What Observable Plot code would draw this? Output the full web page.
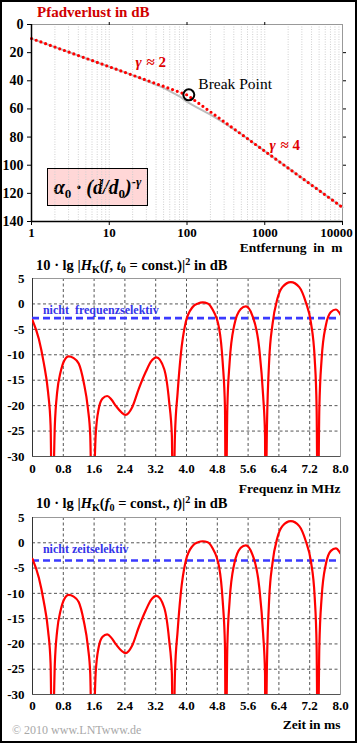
<!DOCTYPE html>
<html><head><meta charset="utf-8">
<script src="https://cdn.jsdelivr.net/npm/d3@7"></script>
<script src="https://cdn.jsdelivr.net/npm/@observablehq/plot@0.6"></script>
<style>
body{margin:0;background:#fff;}
#page{position:relative;width:357px;height:743px;overflow:hidden;background:#fff;font-family:"Liberation Serif",serif;}
.abs{position:absolute;white-space:pre;line-height:1;}
.t{font-weight:bold;font-size:15px;color:#000;}
.abs sub,.abs sup{font-size:0.7em;line-height:0;}
.abs sub{vertical-align:-0.25em;}
.abs sup{vertical-align:0.5em;}
#border{position:absolute;left:0;top:0;width:357px;height:743px;box-sizing:border-box;border:2px solid #000;pointer-events:none;}
#formula{position:absolute;left:47px;top:168px;width:101px;height:38px;box-sizing:border-box;border:1px solid #000;background:#ffd7d7;font:bold italic 20px "Liberation Serif",serif;text-align:center;line-height:36px;white-space:pre;}
#formula sub{font-size:0.65em;font-style:normal;vertical-align:-0.3em;line-height:0;}
#formula sup{font-size:0.65em;vertical-align:0.6em;line-height:0;}
</style>
</head><body><div id="page">
<div class="abs t" style="left:37px;top:5px;color:#d00000;">Pfadverlust in dB</div>
<div class="abs t" style="left:36px;top:258px;font-size:14.5px;">10 · lg |<i>H</i><sub>K</sub>(<i>f</i>, <i>t</i><sub>0</sub> = const.)|<sup>2</sup> in dB</div>
<div class="abs t" style="left:36px;top:496px;font-size:14.5px;">10 · lg |<i>H</i><sub>K</sub>(<i>f</i><sub>0</sub> = const., <i>t</i>)|<sup>2</sup> in dB</div>
<div id="formula">α<sub>0</sub> · (<span>d</span>/<span>d</span><sub>0</sub>)<sup>-γ</sup></div>
<div class="abs" style="left:12px;top:724px;font-size:12px;color:#a8a8a8;">© 2010 www.LNTwww.de</div>
<div id="border"></div>
</div>
<script>
// ---------- Panel 1: path loss ----------
const distances = [1, 100, 10000];
const asymptoteLoss = [10, 50, 130];
const grayDistances = [1, 5, 10, 20, 30, 50, 80, 100, 130, 200, 300, 500, 1000, 3000, 10000];
const grayLoss = [10, 24, 30, 36, 40, 45, 51, 55, 58.5, 64, 70, 78, 90, 109, 130];
const distTicks = [1, 10, 100, 1000, 10000];
const distTickLabels = ["1", "10", "100", "1000", ""];
const lastDistTick = [10000];
const lossTicks = [0, 20, 40, 60, 80, 100, 120, 140];
const breakPoint = [{d: 105.5, v: 50}];
const gammaLabels = ["2", "4"];
const gammaDist = [21.8, 1152];
const gammaLoss = [30.2, 89.5];

// ---------- Panels 2/3: channel transfer function ----------
const freqMHz = [0,0.165,0.29,0.405,0.47,0.51,0.58,0.64,0.73,0.82,0.94,1.06,1.2,1.33,1.44,1.5,1.55,1.64,1.72,1.82,1.94,2.05,2.16,2.42,2.59,2.76,2.94,3.08,3.22,3.42,3.55,3.62,3.65,3.70,3.77,3.85,3.98,4.16,4.3,4.42,4.55,4.67,4.85,4.94,5.0,5.02,5.06,5.12,5.24,5.41,5.54,5.71,5.89,5.99,6.04,6.05,6.09,6.15,6.23,6.36,6.49,6.71,6.93,7.10,7.23,7.33,7.38,7.41,7.45,7.51,7.62,7.75,7.88,8.0];
const gainFreqDB = [-3.2,-6.9,-11.5,-17.4,-23.9,-45,-23.9,-17.4,-13.4,-11.2,-10.3,-10.6,-11.7,-15.4,-20.6,-25.9,-45,-25.9,-20.6,-18.6,-18.1,-18.8,-20,-21.8,-20.3,-16.7,-13.4,-11.3,-10.5,-12.8,-19.3,-25.9,-45,-25.9,-17.4,-10.1,-3.6,-0.6,0.1,0.3,0.1,-1,-4.9,-11.5,-20.6,-45,-20.6,-11.5,-4.2,-1.0,-0.5,-2.3,-8.8,-18,-25.9,-45,-23.9,-10.8,-4.2,1.0,3.3,4.3,3.3,0.3,-3.6,-10.8,-20.6,-45,-20.6,-10.8,-4.2,-1.6,-1.1,-2.1];
const timeMs = freqMHz.slice();
const gainTimeDB = gainFreqDB.slice();
const axisTicks = [0, 0.8, 1.6, 2.4, 3.2, 4.0, 4.8, 5.6, 6.4, 7.2, 8.0];
const axisTickLabels = ["0", "0.8", "1.6", "2.4", "3.2", "4.0", "4.8", "5.6", "6.4", "7.2", "8.0"];
const dbTicks = [5, 0, -5, -10, -15, -20, -25, -30];
const dbTickLabels = ["5", "0", "-5", "-10", "-15", "-20", "-25", "-30"];

const page = document.getElementById("page");
const borderEl = document.getElementById("border");
const baseStyle = {fontFamily: "'Liberation Serif', serif", fontSize: "13px", fontWeight: "bold", background: "transparent", color: "#000", overflow: "visible"};

function place(svg, top) {
  svg.style.position = "absolute";
  svg.style.left = "0px";
  svg.style.top = top + "px";
  page.insertBefore(svg, borderEl);
}

// minor log grid positions
const logGrid = [];
for (const dec of [1, 10, 100, 1000]) for (let k = 2; k <= 9; k++) logGrid.push(k * dec);
logGrid.push(10, 100, 1000);

const asym = distances.map((d, i) => ({d, v: asymptoteLoss[i]}));
const gray = grayDistances.map((d, i) => ({d, v: grayLoss[i]}));
const gam = gammaLabels.map((t, i) => ({t, d: gammaDist[i], v: gammaLoss[i]}));

const p1 = Plot.plot({
  width: 357, height: 253,
  marginLeft: 31, marginRight: 15, marginTop: 24, marginBottom: 32,
  style: baseStyle,
  x: {type: "log", domain: [1, 10000]},
  y: {domain: [0, 140], reverse: true},
  marks: [
    Plot.ruleX(logGrid, {stroke: "#cfcfcf", strokeDasharray: "1,1.5"}),
    Plot.frame({stroke: "#999"}),
    Plot.line(gray, {x: "d", y: "v", stroke: "#bdbdbd", strokeWidth: 2}),
    Plot.line(asym, {x: "d", y: "v", stroke: "#ff0000", strokeWidth: 3.2, strokeDasharray: "0,5", strokeLinecap: "round"}),
    Plot.dot(breakPoint, {x: "d", y: "v", r: 5.5, stroke: "#000", strokeWidth: 2, fill: "none"}),
    Plot.text(gam, {x: "d", y: "v", text: () => "γ", fill: "#e00000", fontSize: 15, fontStyle: "italic", textAnchor: "start", lineAnchor: "bottom"}),
    Plot.text(gam, {x: "d", y: "v", text: d => "≈ " + d.t, fill: "#e00000", fontSize: 15, textAnchor: "start", lineAnchor: "bottom", dx: 11}),
    Plot.text(["Break Point"], {x: 140, y: 45.7, text: d => d, fontSize: 15.5, fontWeight: "normal", textAnchor: "start", lineAnchor: "bottom"}),
    Plot.ruleX([1], {stroke: "#000", strokeWidth: 1.5}),
    Plot.ruleY([140], {stroke: "#000", strokeWidth: 1.5}),
    Plot.axisX({ticks: distTicks, tickFormat: d => distTickLabels[distTicks.indexOf(d)], tickSize: 4, tickPadding: 2, label: null}),
    Plot.text(lastDistTick, {x: d => d, frameAnchor: "bottom", text: d => String(d), dy: 6, dx: -6, lineAnchor: "top"}),
    Plot.axisX({anchor: "top", ticks: [10, 100, 1000], tickFormat: () => "", tickSize: 3, label: null}),
    Plot.axisY({ticks: lossTicks, tickFormat: d => String(d), tickSize: 4, tickPadding: 4, label: null, fontSize: 14}),
    Plot.axisY({anchor: "right", ticks: lossTicks.slice(1, -1), tickFormat: () => "", tickSize: 3, label: null}),
    Plot.text(["Entfernung  in  m"], {frameAnchor: "bottom-right", text: d => d, dy: 30, lineAnchor: "bottom", textAnchor: "end", fontSize: 13.5})
  ]
});
place(p1, 0);

function selPlot({xs, ys, blueY, label, labelY, xLabel, height, marginTop, tickPad, xLabelDy}) {
  const data = xs.map((x, i) => ({x, y: ys[i]}));
  return Plot.plot({
    width: 357, height,
    marginLeft: 32, marginRight: 17, marginTop, marginBottom: 40,
    style: baseStyle,
    x: {domain: [0, 8]},
    y: {domain: [-30, 5]},
    marks: [
      Plot.ruleX(axisTicks.slice(1, -1), {stroke: "#555", strokeDasharray: "3,2.5"}),
      Plot.ruleY(dbTicks.slice(1, -1), {stroke: "#555", strokeDasharray: "3,2.5"}),
      Plot.frame({stroke: "#999"}),
      Plot.ruleX([0], {stroke: "#333"}),
      Plot.ruleY([-30], {stroke: "#555"}),
      Plot.ruleY([blueY], {stroke: "#3a3aff", strokeWidth: 2.6, strokeDasharray: "7,4"}),
      Plot.text([label], {x: 0.27, y: labelY, text: d => d, fill: "#3434e8", fontSize: 12, textAnchor: "start", lineAnchor: "bottom"}),
      Plot.line(data, {x: "x", y: "y", stroke: "#ff0000", strokeWidth: 2.2, curve: "monotone-x", clip: true}),
      Plot.axisX({ticks: axisTicks, tickFormat: d => axisTickLabels[axisTicks.indexOf(d)], tickSize: 0, tickPadding: tickPad, label: null}),
      Plot.axisY({ticks: dbTicks, tickFormat: d => dbTickLabels[dbTicks.indexOf(d)], tickSize: 0, tickPadding: 8, label: null}),
      Plot.text([xLabel], {frameAnchor: "bottom-right", text: d => d, dy: xLabelDy, lineAnchor: "bottom", textAnchor: "end", fontSize: 13.5})
    ]
  });
}

place(selPlot({xs: freqMHz, ys: gainFreqDB, blueY: -2.8, label: "nicht  frequenzselektiv", labelY: -1.9,
  xLabel: "Frequenz in MHz", height: 246, marginTop: 28, tickPad: 7, xLabelDy: 36}), 250);
place(selPlot({xs: timeMs, ys: gainTimeDB, blueY: -3.5, label: "nicht zeitselektiv", labelY: -2.1,
  xLabel: "Zeit in ms", height: 244, marginTop: 27, tickPad: 6, xLabelDy: 34}), 490);
</script></body></html>
